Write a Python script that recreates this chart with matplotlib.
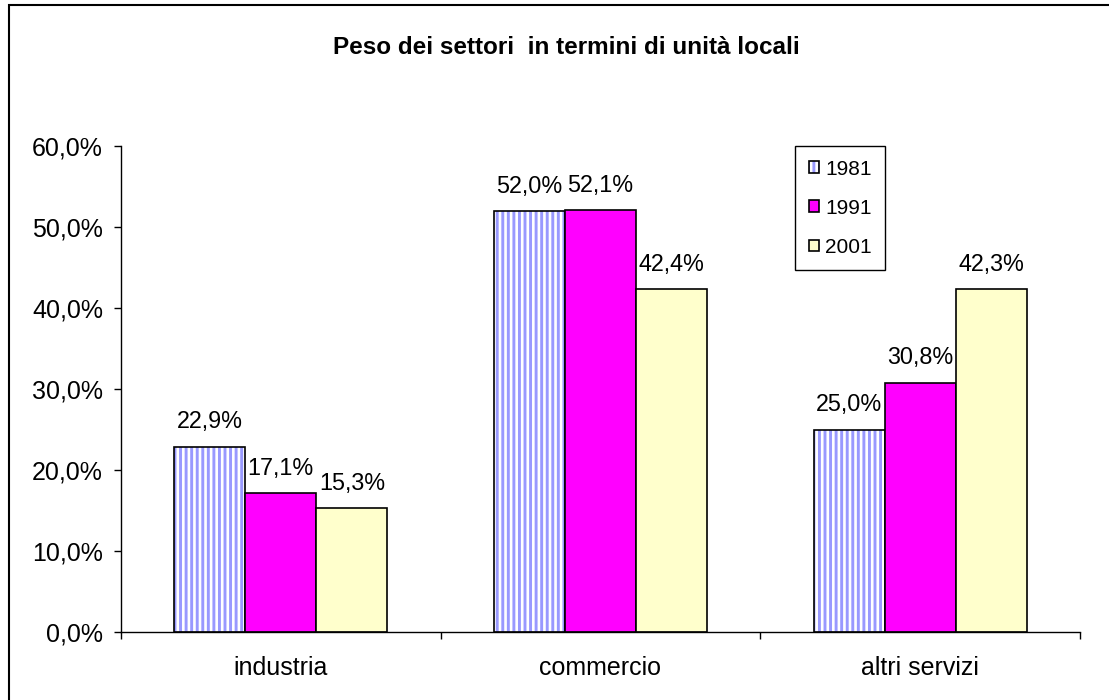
import matplotlib
matplotlib.use("Agg")
import matplotlib.pyplot as plt
from matplotlib.patches import Rectangle
from matplotlib.legend_handler import HandlerTuple
import numpy as np

categories = ["industria", "commercio", "altri servizi"]
years = ["1981", "1991", "2001"]
v1981 = [22.9, 52.0, 25.0]
v1991 = [17.1, 52.1, 30.8]
v2001 = [15.3, 42.4, 42.3]
yticks = [0, 10, 20, 30, 40, 50, 60]
title = "Peso dei settori  in termini di unità locali"

plt.rcParams['font.family'] = ['Liberation Sans', 'DejaVu Sans']
plt.rcParams['hatch.linewidth'] = 2.1

fig = plt.figure(figsize=(11.09, 7.0), dpi=100)
ax = fig.add_axes([121/1109, 1-632/700, (1080-121)/1109, (632-146)/700])

x = np.arange(len(categories))
w = 1/4.5
series = [v1981, v1991, v2001]
colors = ['white', '#FF00FF', '#FFFFCC']

for i, (vals, col) in enumerate(zip(series, colors)):
    pos = x + (i-1)*w
    if i == 0:
        ax.bar(pos, vals, w, color='white', edgecolor='#9999FF', hatch='|||', linewidth=0)
        ax.bar(pos, vals, w, fill=False, edgecolor='black', linewidth=1.2)
    else:
        ax.bar(pos, vals, w, color=col, edgecolor='black', linewidth=1.2)
    for p, v in zip(pos, vals):
        ax.annotate(f"{v:.1f}%".replace('.', ','), (p, v), xytext=(0, 13),
                    textcoords='offset points', ha='center', va='baseline', fontsize=16.8)

ax.set_xlim(-0.5, 2.5)
ax.set_ylim(0, 60)
ax.set_yticks(yticks)
ax.set_yticklabels([f"{t:.1f}%".replace('.', ',') for t in yticks], fontsize=18)
ax.set_xticks(x)
ax.set_xticklabels(categories, fontsize=18)
ax.set_xticks([-0.5, 0.5, 1.5, 2.5], minor=True)
ax.tick_params(axis='x', which='major', length=0, pad=17)
ax.tick_params(axis='x', which='minor', length=5, direction='out', width=1)
ax.tick_params(axis='y', which='major', length=5, direction='out', width=1, pad=8)
for s in ['top', 'right']:
    ax.spines[s].set_visible(False)
for s in ['left', 'bottom']:
    ax.spines[s].set_linewidth(1)

fig.text(566/1109, 1-47/700, title, ha='center', va='center', fontsize=17.5, fontweight='bold')

# legend
h1a = Rectangle((0, 0), 1, 1, facecolor='white', edgecolor='#9999FF', hatch='|||', linewidth=0)
h1b = Rectangle((0, 0), 1, 1, fill=False, edgecolor='black', linewidth=1.2)
h2 = Rectangle((0, 0), 1, 1, facecolor=colors[1], edgecolor='black', linewidth=1.2)
h3 = Rectangle((0, 0), 1, 1, facecolor=colors[2], edgecolor='black', linewidth=1.2)
leg = fig.legend([(h1a, h1b), h2, h3], years, loc='upper left',
                 bbox_to_anchor=(795/1109, 1-146/700), borderaxespad=0,
                 fontsize=15, handler_map={tuple: HandlerTuple(ndivide=1)},
                 handlelength=0.5, handleheight=0.5, handletextpad=0.3,
                 labelspacing=0.97, borderpad=0.65, fancybox=False,
                 edgecolor='black', framealpha=1)
leg.get_frame().set_linewidth(1)

fig.patches.append(Rectangle((9/1109, -0.1), 1.2, 1.1 - 5/700, transform=fig.transFigure,
                             fill=False, edgecolor='black', linewidth=1.5, clip_on=False))

fig.savefig("out.png", dpi=100)
